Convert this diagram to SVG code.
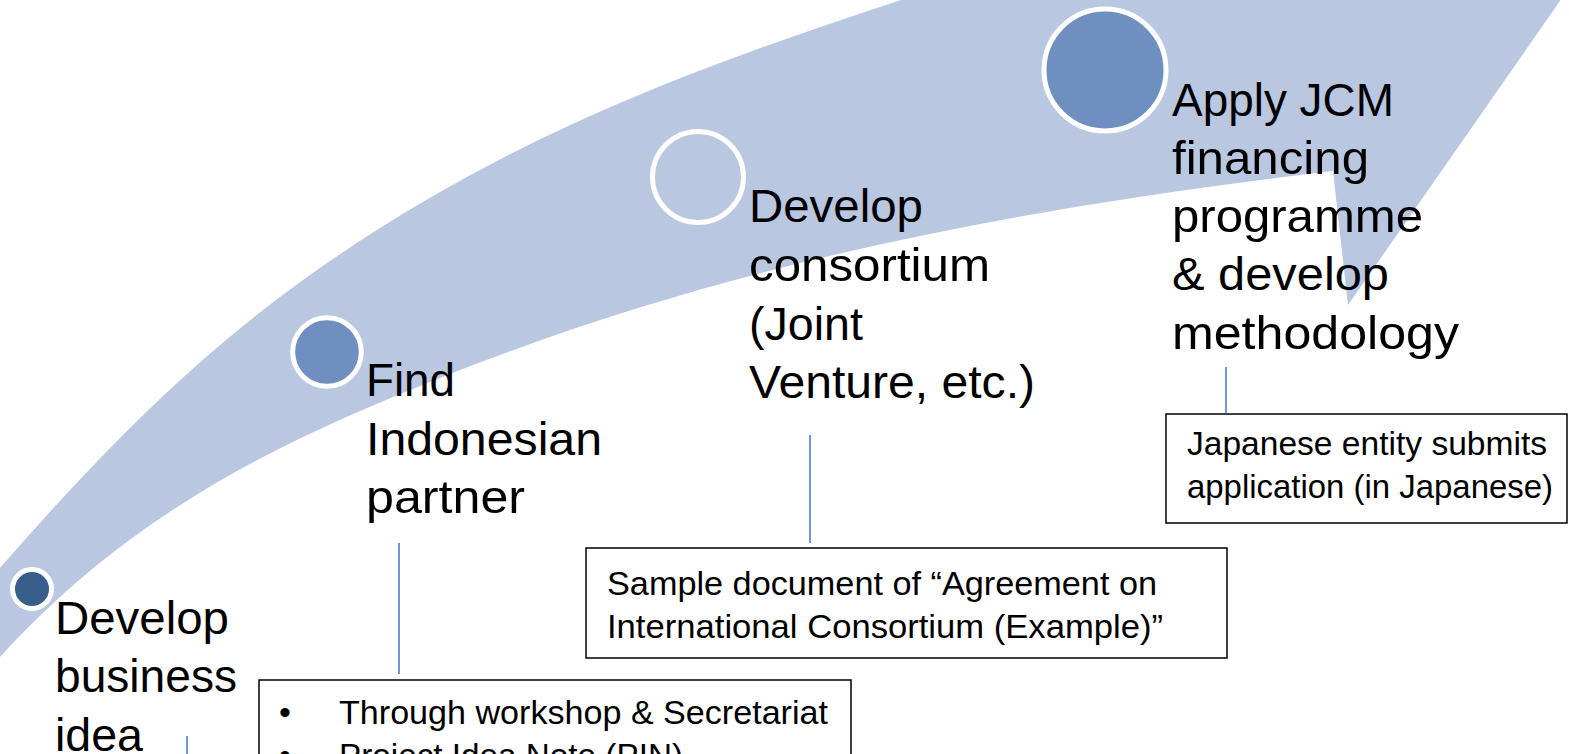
<svg xmlns="http://www.w3.org/2000/svg" width="1569" height="754" viewBox="0 0 1569 754">
  <style>
    .lbl { font-family: "Liberation Sans", Arial, sans-serif; font-size: 47px; fill: #000; }
    .box { fill: #fff; stroke: #000; stroke-width: 1.5; }
    .btx { font-family: "Liberation Sans", Arial, sans-serif; font-size: 34px; fill: #000; }
    .con { stroke: #4472C4; stroke-width: 1.5; fill: none; }
    .dot { stroke: #fff; stroke-width: 5; }
  </style>
  <rect x="0" y="0" width="1569" height="754" fill="#fff"/>
  <g id="arrow">
    <path d="M -30,690 L 0,657 C 140,503 300,434 440,378 C 740,258 1033,207 1333,171 L 1348,305 L 1700,-200 L 1100,-200 L 1100,-66 L 901,0 C 701,66 503,136 303,280 C 193,359 100,453 0,568 L -30,602 Z" fill="#B9C7E0"/>
  </g>
  <g id="connectors">
    <line class="con" x1="187" y1="736" x2="187" y2="754"/>
    <line class="con" x1="399" y1="543" x2="399" y2="674"/>
    <line class="con" x1="810" y1="435" x2="810" y2="543"/>
    <line class="con" x1="1226" y1="367" x2="1226" y2="413"/>
  </g>
  <g id="node1">
    <circle class="dot" cx="32" cy="589" r="19.5" fill="#375D8A" stroke-width="4.5"/>
    <text class="lbl" x="55" y="634" textLength="174" lengthAdjust="spacingAndGlyphs">Develop</text>
    <text class="lbl" x="55" y="692" textLength="182" lengthAdjust="spacingAndGlyphs">business</text>
    <text class="lbl" x="55" y="751" textLength="88" lengthAdjust="spacingAndGlyphs">idea</text>
  </g>
  <g id="node2">
    <circle class="dot" cx="327" cy="352" r="34.3" fill="#6E8FC0"/>
    <text class="lbl" x="366" y="396" textLength="89" lengthAdjust="spacingAndGlyphs">Find</text>
    <text class="lbl" x="366" y="455" textLength="236" lengthAdjust="spacingAndGlyphs">Indonesian</text>
    <text class="lbl" x="366" y="513" textLength="159" lengthAdjust="spacingAndGlyphs">partner</text>
  </g>
  <g id="node3">
    <circle class="dot" cx="698" cy="177" r="45.5" fill="#B9C7E0"/>
    <text class="lbl" x="749" y="222" textLength="174" lengthAdjust="spacingAndGlyphs">Develop</text>
    <text class="lbl" x="749" y="281" textLength="241" lengthAdjust="spacingAndGlyphs">consortium</text>
    <text class="lbl" x="749" y="340" textLength="114" lengthAdjust="spacingAndGlyphs">(Joint</text>
    <text class="lbl" x="749" y="398" textLength="286" lengthAdjust="spacingAndGlyphs">Venture, etc.)</text>
  </g>
  <g id="node4">
    <circle class="dot" cx="1105" cy="70" r="61" fill="#6E8FC0" stroke-width="5.5"/>
    <text class="lbl" x="1172" y="116" textLength="222" lengthAdjust="spacingAndGlyphs">Apply JCM</text>
    <text class="lbl" x="1172" y="174" textLength="197" lengthAdjust="spacingAndGlyphs">financing</text>
    <text class="lbl" x="1172" y="232" textLength="251" lengthAdjust="spacingAndGlyphs">programme</text>
    <text class="lbl" x="1172" y="290" textLength="217" lengthAdjust="spacingAndGlyphs">&amp; develop</text>
    <text class="lbl" x="1172" y="349" textLength="287" lengthAdjust="spacingAndGlyphs">methodology</text>
  </g>
  <g id="box1">
    <rect class="box" x="259" y="680" width="592" height="120"/>
    <text class="btx" x="279" y="724">•</text>
    <text class="btx" x="339" y="724" textLength="489" lengthAdjust="spacingAndGlyphs">Through workshop &amp; Secretariat</text>
    <text class="btx" x="279" y="767">•</text>
    <text class="btx" x="339" y="767" textLength="344" lengthAdjust="spacingAndGlyphs">Project Idea Note (PIN)</text>
  </g>
  <g id="box2">
    <rect class="box" x="586" y="548" width="641" height="110"/>
    <text class="btx" x="607" y="595" textLength="550" lengthAdjust="spacingAndGlyphs">Sample document of “Agreement on</text>
    <text class="btx" x="607" y="638" textLength="556" lengthAdjust="spacingAndGlyphs">International Consortium (Example)”</text>
  </g>
  <g id="box3">
    <rect class="box" x="1166" y="414" width="401" height="109"/>
    <text class="btx" x="1187" y="455" textLength="360" lengthAdjust="spacingAndGlyphs">Japanese entity submits</text>
    <text class="btx" x="1187" y="498" textLength="366" lengthAdjust="spacingAndGlyphs">application (in Japanese)</text>
  </g>
</svg>
